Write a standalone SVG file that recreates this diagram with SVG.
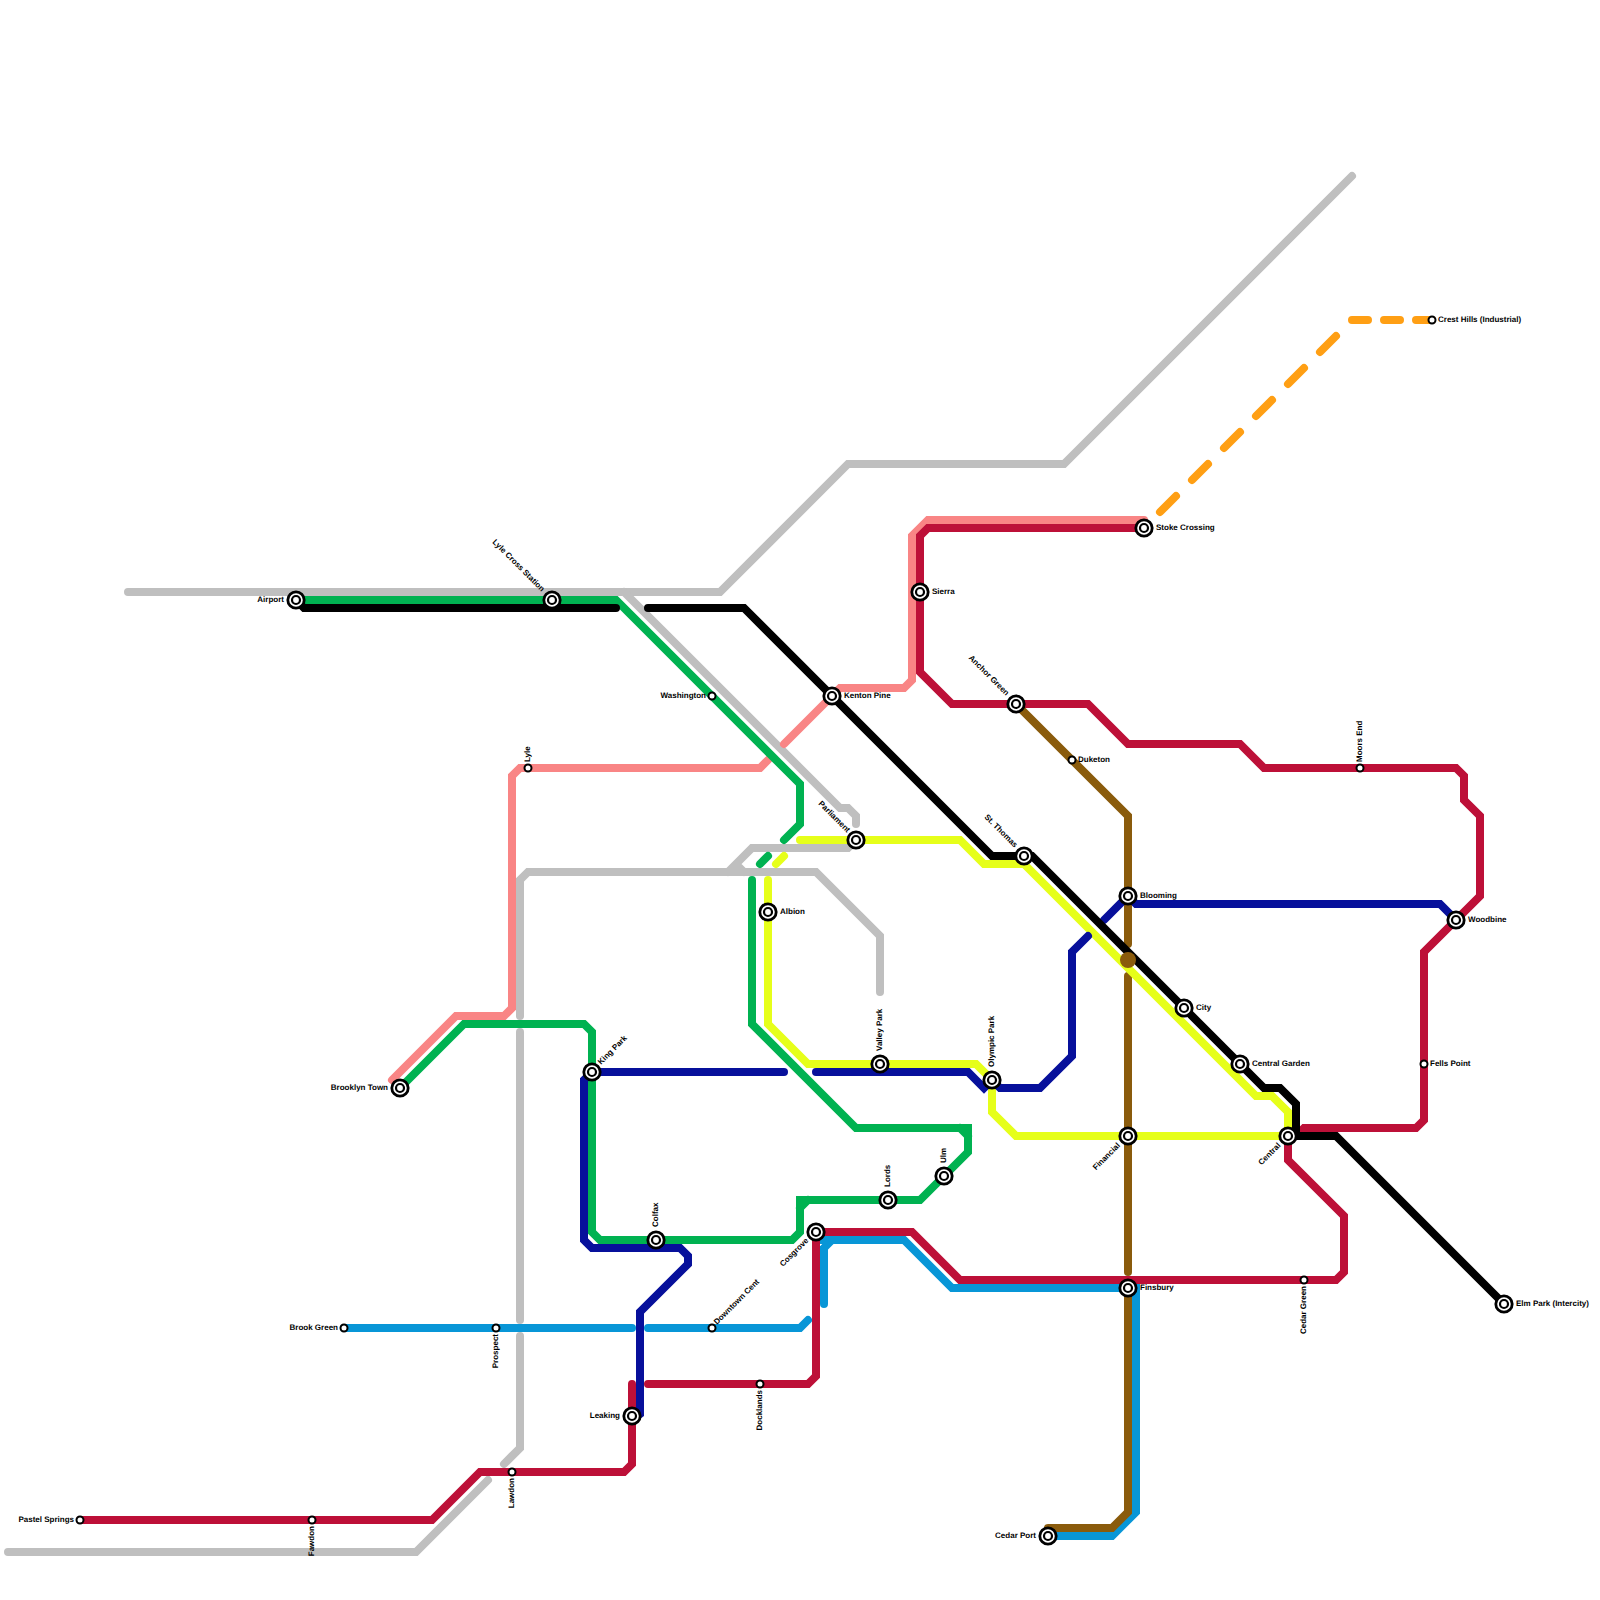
<svg xmlns="http://www.w3.org/2000/svg" width="1600" height="1600" viewBox="0 0 1600 1600">
<style>
.l{fill:none;stroke-width:8;stroke-linecap:round;stroke-linejoin:miter}
.grey{stroke:#bfbfbf}.pink{stroke:#f98585}.red{stroke:#bd1038}.green{stroke:#00b251}.navy{stroke:#07109b}.blue{stroke:#0896d7}.yellow{stroke:#e6ff1a}.brown{stroke:#8a5b0c}.black{stroke:#000}.orange{stroke:#ff9f14}
.o{fill:#fff;stroke:#000;stroke-width:2.8}
.i{fill:#fff;stroke:#000;stroke-width:2.2}
.s{fill:#fff;stroke:#000;stroke-width:2}
text{font-family:"Liberation Sans",Arial,sans-serif;font-size:8px;font-weight:700;fill:#000;text-rendering:geometricPrecision}
.e{text-anchor:end}
</style>
<defs>
<g id="big"><circle class="o" r="8.2"/><circle class="i" r="4"/></g>
<circle id="small" class="s" r="3.5"/>
</defs>
<rect width="1600" height="1600" fill="#fff"/>
<g id="connectors">
<path class="l grey" d="M128 592H720L848 464H1064L1352 176"/>
<path class="l grey" d="M624 592L840 808H848L856 816V824"/>
<path class="l grey" d="M856 840L848 848H752L728 872M736 864L744 872"/>
<path class="l grey" d="M520 1016V880L528 872H816L880 936V992"/>
<path class="l grey" d="M520 1032V1320"/>
<path class="l grey" d="M520 1336V1448L504 1464"/>
<path class="l grey" d="M488 1480L416 1552H8"/>
<path class="l pink" d="M392 1080L456 1016H504L512 1008V776L520 768H760L768 760"/>
<path class="l pink" d="M784 744L832 696L840 688H904L912 680V536L928 520H1144"/>
<path class="l blue" d="M344 1328H632"/>
<path class="l blue" d="M648 1328H800L808 1320"/>
<path class="l blue" d="M824 1304V1248L832 1240M816 1240H904L952 1288H1136V1512L1112 1536H1048"/>
<path class="l red" d="M1144 528H928L920 536V672L952 704H1088L1128 744H1240L1264 768H1456L1464 776V800L1480 816V896L1424 952V1120L1416 1128H1304L1296 1136"/>
<path class="l red" d="M1288 1136V1160L1344 1216V1272L1336 1280H960L912 1232H816V1376L808 1384H648"/>
<path class="l red" d="M632 1384V1464L624 1472H480L432 1520H80"/>
<path class="l brown" d="M1016 704L1128 816V944"/>
<path class="l brown" d="M1128 976V1272"/>
<path class="l brown" d="M1128 1288V1512L1112 1528H1048"/>
<path class="l yellow" d="M800 840H960L984 864H1024L1256 1096H1272L1288 1112V1136H1016L992 1112V1080L976 1064H808L768 1024V880"/>
<path class="l yellow" d="M776 864L784 856"/>
<path class="l green" d="M296 600H616L800 784V824L784 840"/>
<path class="l green" d="M768 856L760 864"/>
<path class="l green" d="M400 1088L464 1024H584L592 1032V1232L600 1240H792L800 1232V1200H920L968 1152V1128H856L752 1024V880M800 1208L808 1200M960 1128L968 1136"/>
<path class="l navy" d="M592 1072H784"/>
<path class="l navy" d="M592 1072L584 1080V1240L592 1248H680L688 1256V1264L640 1312V1414L632 1420"/>
<path class="l navy" d="M816 1072H968L984 1088L992 1080L1000 1088H1040L1072 1056V952L1088 936"/>
<path class="l navy" d="M1104 920L1128 896L1136 904H1440L1456 920"/>
<path class="l black" d="M296 600L304 608H616"/>
<path class="l black" d="M648 608H744L992 856H1032L1264 1088H1280L1296 1104V1136H1336L1504 1304"/>
<path class="l black" d="M1288 1136H1296"/>
<path class="l orange" d="M1160 512L1176 496M1192 480L1208 464M1224 448L1240 432M1256 416L1272 400M1288 384L1304 368M1320 352L1336 336M1352 320H1368M1384 320H1400M1416 320H1432"/>
<circle cx="1128" cy="960" r="8" fill="#8a5b0c"/>
</g>
<g id="airport"><use href="#big" x="296" y="600"/><text class="e" x="284" y="602">Airport</text></g>
<g id="lyle-cross"><use href="#big" x="552" y="600"/><text class="e" transform="translate(541.5 592) rotate(45)">Lyle Cross Station</text></g>
<g id="washington"><use href="#small" x="712" y="696"/><text class="e" x="706" y="698">Washington</text></g>
<g id="kenton-pine"><use href="#big" x="832" y="696"/><text x="844" y="698">Kenton Pine</text></g>
<g id="parliament"><use href="#big" x="856" y="840"/><text class="e" transform="translate(847 833) rotate(45)">Parliament</text></g>
<g id="st-thomas"><use href="#big" x="1024" y="856"/><text class="e" transform="translate(1014.5 848) rotate(45)">St. Thomas</text></g>
<g id="anchor-green"><use href="#big" x="1016" y="704"/><text class="e" transform="translate(1006 696) rotate(45)">Anchor Green</text></g>
<g id="albion"><use href="#big" x="768" y="912"/><text x="780" y="914">Albion</text></g>
<g id="blooming"><use href="#big" x="1128" y="896"/><text x="1140" y="898">Blooming</text></g>
<g id="city"><use href="#big" x="1184" y="1008"/><text x="1196" y="1010">City</text></g>
<g id="central-garden"><use href="#big" x="1240" y="1064"/><text x="1252" y="1066">Central Garden</text></g>
<g id="financial"><use href="#big" x="1128" y="1136"/><text class="e" transform="translate(1120.5 1146) rotate(-45)">Financial</text></g>
<g id="central"><use href="#big" x="1288" y="1136"/><text class="e" transform="translate(1281 1146) rotate(-45)">Central</text></g>
<g id="colfax"><use href="#big" x="656" y="1240"/><text transform="translate(658 1227) rotate(-90)">Colfax</text></g>
<g id="leaking"><use href="#big" x="632" y="1416"/><text class="e" x="620" y="1418">Leaking</text></g>
<g id="downtown-cent"><use href="#small" x="712" y="1328"/><text transform="translate(717 1325) rotate(-45)">Downtown Cent</text></g>
<g id="docklands"><use href="#small" x="760" y="1384"/><text class="e" transform="translate(762 1390) rotate(-90)">Docklands</text></g>
<g id="cosgrove"><use href="#big" x="816" y="1232"/><text class="e" transform="translate(809 1241) rotate(-45)">Cosgrove</text></g>
<g id="lords"><use href="#big" x="888" y="1200"/><text transform="translate(890 1187) rotate(-90)">Lords</text></g>
<g id="ulm"><use href="#big" x="944" y="1176"/><text transform="translate(946 1163) rotate(-90)">Ulm</text></g>
<g id="valley-park"><use href="#big" x="880" y="1064"/><text transform="translate(882 1051) rotate(-90)">Valley Park</text></g>
<g id="olympic-park"><use href="#big" x="992" y="1080"/><text transform="translate(994 1067) rotate(-90)">Olympic Park</text></g>
<g id="king-park"><use href="#big" x="592" y="1072"/><text transform="translate(601 1065) rotate(-45)">King Park</text></g>
<g id="brooklyn-town"><use href="#big" x="400" y="1088"/><text class="e" x="388" y="1090">Brooklyn Town</text></g>
<g id="prospect"><use href="#small" x="496" y="1328"/><text class="e" transform="translate(498 1334) rotate(-90)">Prospect</text></g>
<g id="lawdon"><use href="#small" x="512" y="1472"/><text class="e" transform="translate(514 1478) rotate(-90)">Lawdon</text></g>
<g id="lyle"><use href="#small" x="528" y="768"/><text transform="translate(530 762) rotate(-90)">Lyle</text></g>
<g id="brook-green"><use href="#small" x="344" y="1328"/><text class="e" x="338" y="1330">Brook Green</text></g>
<g id="pastel-springs"><use href="#small" x="80" y="1520"/><text class="e" x="74" y="1522">Pastel Springs</text></g>
<g id="fawdon"><use href="#small" x="312" y="1520"/><text class="e" transform="translate(314 1526) rotate(-90)">Fawdon</text></g>
<g id="cedar-port"><use href="#big" x="1048" y="1536"/><text class="e" x="1036" y="1538">Cedar Port</text></g>
<g id="finsbury"><use href="#big" x="1128" y="1288"/><text x="1140" y="1290">Finsbury</text></g>
<g id="cedar-green"><use href="#small" x="1304" y="1280"/><text class="e" transform="translate(1306 1286) rotate(-90)">Cedar Green</text></g>
<g id="elm-park"><use href="#big" x="1504" y="1304"/><text x="1516" y="1306">Elm Park (Intercity)</text></g>
<g id="woodbine"><use href="#big" x="1456" y="920"/><text x="1468" y="922">Woodbine</text></g>
<g id="fells-point"><use href="#small" x="1424" y="1064"/><text x="1430" y="1066">Fells Point</text></g>
<g id="moors-end"><use href="#small" x="1360" y="768"/><text transform="translate(1362 762) rotate(-90)">Moors End</text></g>
<g id="crest-hills"><use href="#small" x="1432" y="320"/><text x="1438" y="322">Crest Hills (Industrial)</text></g>
<g id="stoke-crossing"><use href="#big" x="1144" y="528"/><text x="1156" y="530">Stoke Crossing</text></g>
<g id="sierra"><use href="#big" x="920" y="592"/><text x="932" y="594">Sierra</text></g>
<g id="duketon"><use href="#small" x="1072" y="760"/><text x="1078" y="762">Duketon</text></g>
</svg>
